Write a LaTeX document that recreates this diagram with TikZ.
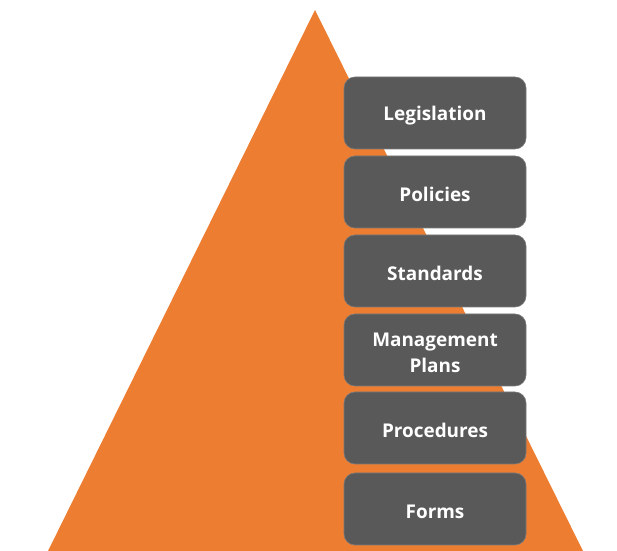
\documentclass[tikz,border=0pt]{standalone}
\usepackage{fontspec}
\setmainfont{Open Sans}
\definecolor{pyrorange}{HTML}{ED7D31}
\definecolor{boxgray}{HTML}{595959}
\begin{document}
\begin{tikzpicture}[x=1bp,y=1bp,
  levelbox/.style={fill=boxgray, draw=boxgray!80!white, line width=0.6bp, rounded corners=11bp,
    minimum width=182bp, minimum height=72bp, inner sep=0pt},
  leveltext/.style={text=white, inner sep=0pt, align=center,
    font=\fontsize{19}{26}\selectfont\bfseries}]
\useasboundingbox (0,0) rectangle (617,551);
\fill[pyrorange] (48,0) -- (315,541) -- (583,0) -- cycle;
\node[levelbox] (leg) at (435,551-113) {};
\node[levelbox] (pol) at (435,551-192) {};
\node[levelbox] (std) at (435,551-271) {};
\node[levelbox] (mgp) at (435,551-350) {};
\node[levelbox] (pro) at (435,551-428) {};
\node[levelbox] (frm) at (435,551-509) {};
\node[leveltext] (legt) at ([yshift=-2.5bp]leg.center) {Legislation};
\node[leveltext] (polt) at ([yshift=-2.5bp]pol.center) {Policies};
\node[leveltext] (stdt) at ([yshift=-2.5bp]std.center) {Standards};
\node[leveltext] (mgpt) at ([yshift=-2.5bp]mgp.center) {Management\\Plans};
\node[leveltext] (prot) at ([yshift=-2.5bp]pro.center) {Procedures};
\node[leveltext] (frmt) at ([yshift=-2.5bp]frm.center) {Forms};
\end{tikzpicture}
\end{document}
